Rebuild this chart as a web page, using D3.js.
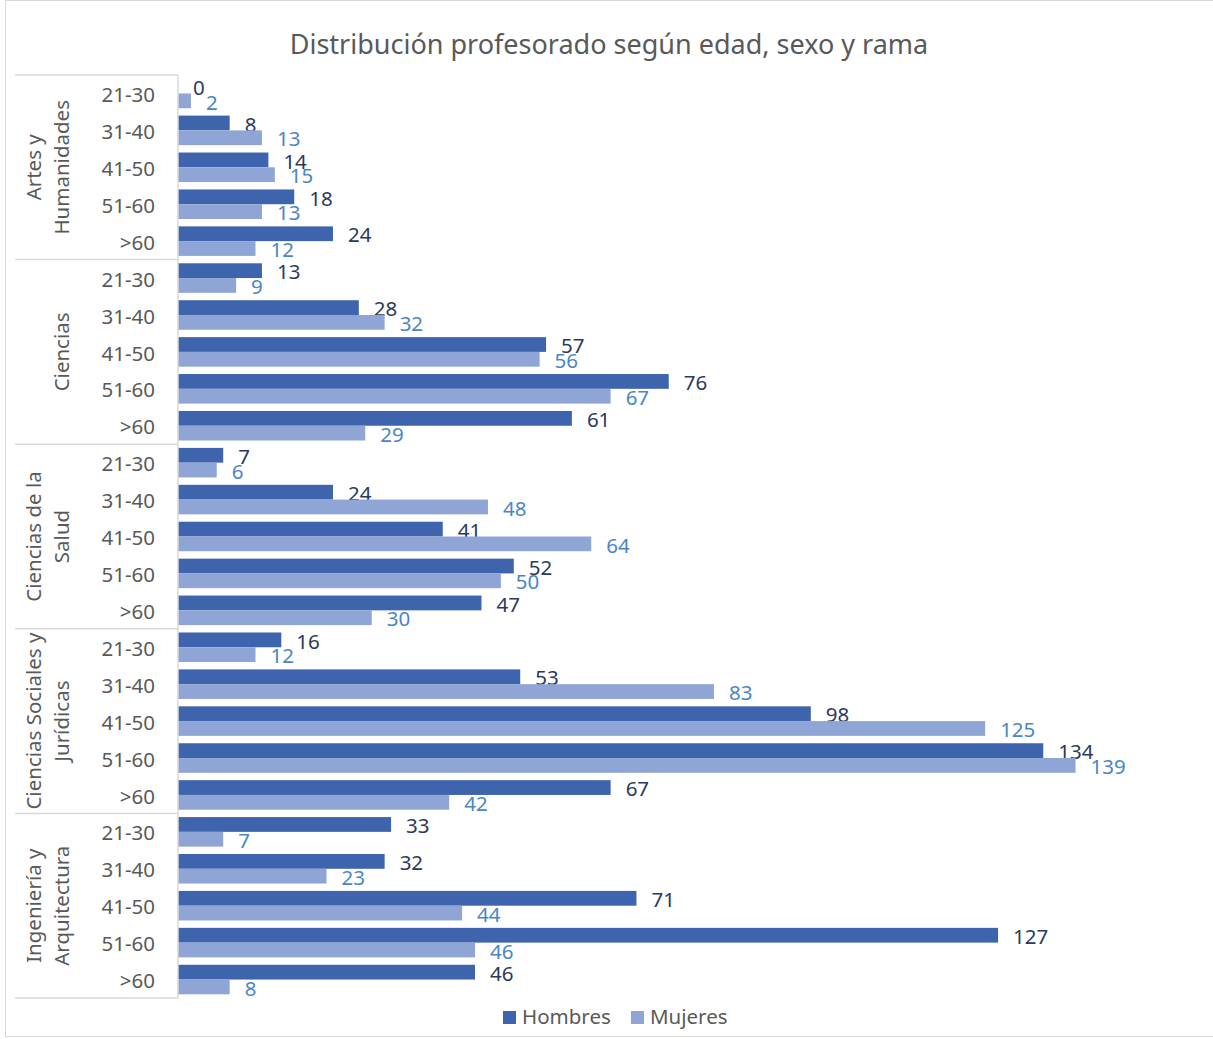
<html><head>
<meta charset="utf-8">
<title>Distribución profesorado</title>
<script src="https://d3js.org/d3.v7.min.js"></script>
<style>
  body { margin: 0; background: #fff; }
  text { font-family: "Segoe UI", "Noto Sans", "Open Sans", sans-serif; }
  .ages .domain { stroke: #d9d9d9; stroke-width: 1.5px; }
  .ages text { fill: #595959; font-size: 20.5px; }
</style>
</head>
<body>
<svg id="chart" width="1213" height="1039"></svg>
<script>
// --- data
const ramas = [["Artes y", "Humanidades"], ["Ciencias"], ["Ciencias de la", "Salud"],
               ["Ciencias Sociales y", "Jurídicas"], ["Ingeniería y", "Arquitectura"]];
const edades = ["21-30", "31-40", "41-50", "51-60", ">60"];
const series = ["Hombres", "Mujeres"];
const hombres = [0, 8, 14, 18, 24,  13, 28, 57, 76, 61,  7, 24, 41, 52, 47,
                 16, 53, 98, 134, 67,  33, 32, 71, 127, 46];
const mujeres = [2, 13, 15, 13, 12,  9, 32, 56, 67, 29,  6, 48, 64, 50, 30,
                 12, 83, 125, 139, 42,  7, 23, 44, 46, 8];

const colors = {Hombres: "#3d64ad", Mujeres: "#8fa5d5"};
const labelColors = {Hombres: "#2b3a5c", Mujeres: "#4a86c5"};

const svg = d3.select("svg#chart");
const margins = {top: 75, left: 178, bottom: 41};

// outer frame
svg.append("rect").attr("x", 5.5).attr("y", 0.5).attr("width", 1212).attr("height", 1036)
   .attr("fill", "none").attr("stroke", "#d9d9d9");

svg.append("text").attr("x", 609).attr("y", 54).attr("text-anchor", "middle")
   .attr("font-size", 27).attr("fill", "#595959")
   .text("Distribución profesorado según edad, sexo y rama");

// one key per row: group index + age
const keys = [];
ramas.forEach((r, gi) => edades.forEach(e => keys.push(gi + "|" + e)));
const rows = keys.map((k, i) => ({key: k, Hombres: hombres[i], Mujeres: mujeres[i]}));

const yScale = d3.scaleBand().domain(keys).range([75, 998]).paddingInner(0.2).paddingOuter(0.1);
const inner = d3.scaleBand().domain(series).range([0, yScale.bandwidth()]);
const xScale = d3.scaleLinear().domain([0, 140]).range([margins.left, margins.left + 904]);

// bars
const plot = svg.append("g");
series.forEach(s => {
  plot.selectAll("rect." + s).data(rows).join("rect")
      .attr("class", s)
      .attr("x", xScale(0))
      .attr("y", d => yScale(d.key) + inner(s))
      .attr("width", d => xScale(d[s]) - xScale(0))
      .attr("height", inner.bandwidth())
      .attr("fill", colors[s]);

  plot.selectAll("text." + s).data(rows).join("text")
      .attr("class", s)
      .attr("x", d => xScale(d[s]) + 15)
      .attr("y", d => yScale(d.key) + inner(s) + inner.bandwidth() / 2 + 1.5)
      .attr("dy", "0.35em")
      .attr("font-size", 20.5)
      .attr("fill", labelColors[s])
      .text(d => d[s]);
});

// age axis
const ageAxis = d3.axisLeft(yScale).tickSize(0).tickPadding(23)
                  .tickFormat(k => k.split("|")[1]);
const ag = svg.append("g").attr("class", "ages")
              .attr("transform", "translate(" + margins.left + ",0)")
              .call(ageAxis);
ag.select(".domain").attr("d", "M0,75V998");
ag.selectAll(".tick text").attr("dy", "0.42em");

// group separators and labels
ramas.forEach((r, gi) => {
  const y0 = 75 + gi * 5 * (923 / 25);
  const y1 = 75 + (gi + 1) * 5 * (923 / 25);
  const mid = (y0 + y1) / 2;
  const lineX = r.length === 1 ? [62] : [34, 62];
  r.forEach((t, li) => {
    svg.append("text")
       .attr("transform", "translate(" + lineX[li] + "," + mid + ") rotate(-90)")
       .attr("text-anchor", "middle").attr("dy", "0.35em")
       .attr("font-size", 20.5).attr("fill", "#595959")
       .text(t);
  });
});
[0, 1, 2, 3, 4, 5].forEach(i => {
  const y = 75 + i * 5 * (923 / 25);
  svg.append("line").attr("x1", 15).attr("x2", margins.left).attr("y1", y).attr("y2", y)
     .attr("stroke", "#d9d9d9").attr("stroke-width", 1.5);
});

// legend
const legend = svg.append("g").attr("transform", "translate(503,1017)");
const legX = {Hombres: 0, Mujeres: 128};
series.forEach(s => {
  legend.append("rect").attr("x", legX[s]).attr("y", -6).attr("width", 13).attr("height", 13)
        .attr("fill", colors[s]);
  legend.append("text").attr("x", legX[s] + 19).attr("y", 0).attr("dy", "0.35em")
        .attr("font-size", 20.5).attr("fill", "#595959").text(s);
});
</script>
</body>
</html>
